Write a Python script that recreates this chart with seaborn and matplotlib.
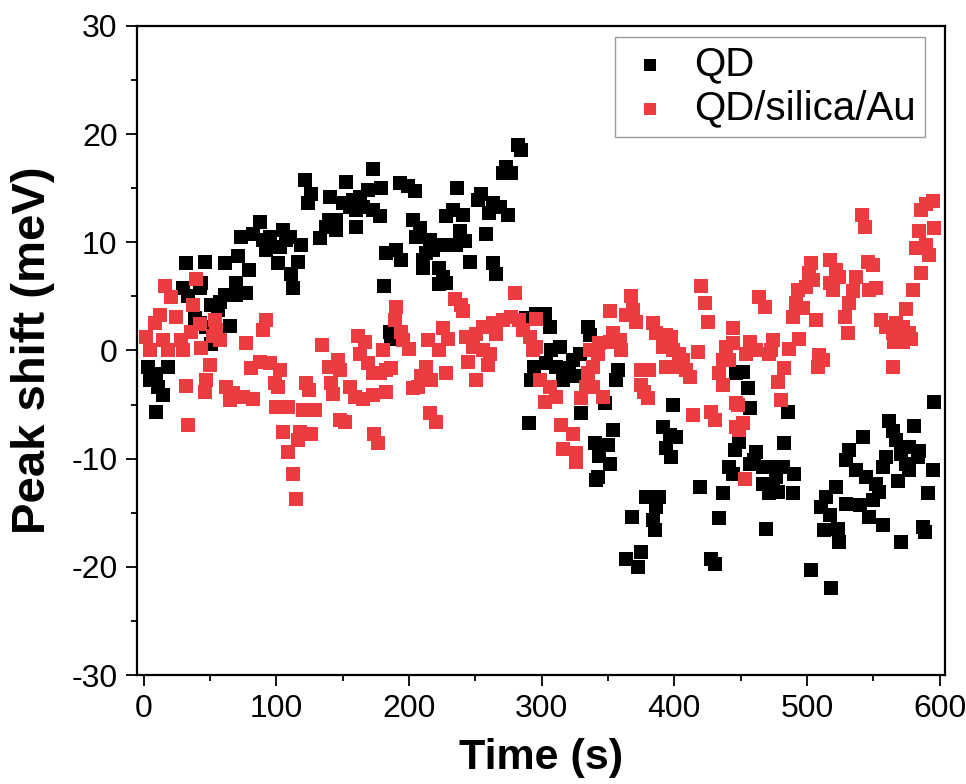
import matplotlib
matplotlib.use("Agg")
import matplotlib.pyplot as plt
from matplotlib.ticker import MultipleLocator
import seaborn as sns

# QD (black squares): time in s, peak shift in meV
qd_time = [
    121.3, 126.4, 123.8, 140.2, 140, 137.7, 145, 132.6, 87.4, 73.6, 82.4, 89.9, 95, 105,
    107.5, 102.5, 110, 92.5, 118.8, 101.2, 116.3, 111.3, 112.5, 31.6, 46, 61.5, 71.1, 79.4,
    69.3, 77.4, 69.8, 61, 57.3, 56, 51, 29.6, 33.4, 42.2, 43.5, 38.4, 42.2, 47.2, 64.8, 51,
    3.2, 9.6, 18.3, 4.5, 10.8, 14.5, 9.6,
    282, 284.6, 273.3, 277.1, 270.8, 172.8, 152.7, 192.9, 199.2, 204.2, 179.1, 169, 162.8,
    157.7, 150.2, 165.3, 160.3, 155.2, 172.8, 177.8, 145.2, 160.3, 236.2, 254.3, 251.9,
    263.2, 260.7, 268.3, 274.5, 233, 228, 240.6, 202.9, 208, 238.1, 241.9, 235.6, 230.6,
    258.1, 205.5, 215.5, 220.5, 213, 210.5, 218, 182.8, 190.4, 194.1, 210.5, 223, 225.6,
    223, 228, 245.7, 263.2, 265.8, 180.9, 185.4, 186.7, 288.3, 295.8, 294.6, 292.1, 290.3,
    302.2, 306, 334.8, 336.1, 313.5, 307.2, 303.4, 310.9, 318.5, 323.5, 328.6, 316, 321,
    326, 357.4, 356.2, 347.4, 329.8, 353.7, 339.9, 349.9, 343.6, 351.2, 342.4, 399.4,
    391.3, 396.4, 401.4, 393.8, 397.7, 446.5, 441.6, 444, 445.4, 341, 363.7,
    596.1, 451.7, 455.4, 456.7, 485.5, 483, 449.1, 461.7, 460.4, 466.7, 474.2, 481.7,
    490.6, 456.7, 542, 532, 529.5, 537, 562.1, 564.6, 567.1, 559.6, 557.1, 570.9, 577.2,
    581, 584.8, 583.5, 574.7, 594.8,
    476.8, 466.7, 474.2, 471.7, 478, 489.3, 419, 378.8, 388.8, 386.4, 383.8, 385.1, 368,
    436.6, 434, 469.2, 375, 372.5, 427.8, 430.4, 503.1, 518.2, 544.5, 552.1, 554.6, 549.6,
    539.6, 529.5, 522, 514.5, 510.7, 517, 513.2, 523.3, 524.5, 577.2, 568.4, 557.1, 547.1,
    571, 591, 587.3, 588.6,
]
qd_shift = [
    15.8, 14.5, 13.6, 14.2, 12.1, 11.4, 11.1, 10.4, 11.9, 10.5, 10.8, 10.2, 10.5, 11.1,
    10.2, 9.6, 10.5, 9.3, 9.75, 8.05, 8.2, 7.1, 5.75, 8.1, 8.2, 8.1, 8.7, 7.4,
    6.2, 5.3, 5.1, 5.1, 4.5, 3.75, 4.2, 5.75, 5.0, 5.75, 6.2, 2.97, 2.5, 2.2, 2.3, 0.6,
    -1.5, -2.15, -1.5, -2.7, -3.35, -4.1, -5.7,
    19.0, 18.5, 17.0, 16.4, 16.4, 16.8, 15.6, 15.5, 15.2, 14.7, 15.0, 14.85, 14.2,
    13.9, 13.6, 13.3, 13.0, 13.3, 13.0, 12.4, 12.1, 11.4, 15.0, 14.5, 13.9,
    13.6, 12.7, 13.3, 12.5, 13.0, 12.4, 12.5, 12.1, 11.3, 11.0, 10.1, 9.75, 9.75,
    10.8, 10.5, 10.2, 9.75, 9.0, 8.4, 9.3, 9.0, 9.3, 8.4, 7.6, 7.6, 6.8,
    6.1, 6.2, 8.2, 8.05, 7.1, 6.0, 1.7, 1.1, 3.0, 3.4, -1.5, -2.75, -6.75,
    3.4, 2.2, 2.2, 1.4, 0.35, 0.05, -1.2, -1.5, -1.65, -0.9, -0.3, -2.75, -2.1,
    -2.4, -1.8, -2.75, -4.9, -5.8, -7.35, -8.6, -8.75, -9.8, -10.45, -11.7, -5.05,
    -7.05, -7.8, -8.0, -9.05, -9.85, -2.1, -10.75, -11.4, -9.2, -12.0, -19.25,
    -4.8, -1.95, -3.5, -5.35, -5.65, -8.6, -8.45, -9.4, -10.15, -10.75, -10.75, -10.75,
    -11.4, -10.45, -8.0, -9.2, -10.15, -11.05, -6.5, -7.4, -8.3, -9.85, -10.8, -9.55, -8.95,
    -6.95, -9.25, -9.85, -10.45, -11.05,
    -11.7, -12.3, -12.6, -13.2, -13.1, -13.2, -12.6, -13.5, -13.5, -14.45, -15.7, -16.6, -15.4,
    -13.2, -15.5, -16.5, -18.6, -20.0, -19.25, -19.7, -20.3, -22.0, -11.7, -12.3, -13.1, -13.85,
    -14.3, -14.15, -12.6, -13.5, -14.45, -15.2, -16.6, -16.5, -17.7, -11.05, -12.1, -16.15, -15.4,
    -17.7, -13.2, -16.3, -16.8,
]

# QD/silica/Au (red squares)
au_time = [
    39.7, 15.8, 20.9, 24.6, 12.1, 8.3, 37.2, 53.5, 54.8, 92.5, 89.9, 42.2, 35.9, 2, 4.5,
    14.5, 18.3, 28.4, 29.6, 43.4, 52.2, 57.3, 77.4, 134.5, 49.7, 47.2, 46, 31.6, 33.4,
    81.1, 87.4, 95, 102.5, 98.7, 101.2, 62.3, 67.3, 74.8, 82.4, 64.8, 100, 108.7, 122.6,
    125, 120, 128.9, 140, 141, 142.6, 105, 117.6, 126.4, 116.3, 108.7, 112.5, 147.7, 114.5,
    279.6, 234.4, 239.4, 240.6, 190.4, 189.2, 194.2, 195.4, 200.4, 225.5, 229.3, 223,
    214.3, 161.4, 166.5, 180.4, 162.8, 169.1, 172.8, 182.8, 186.7, 177.8, 146.5, 147.7,
    155.2, 159, 165.3, 172.8, 182.8, 151.5, 174, 176.6, 213, 209.3, 216.8, 202.9, 206.7,
    228, 243.1, 250.6, 255.7, 263.2, 270.8, 277.1, 283.3, 285.8, 290.9, 293.4, 248.2,
    255.7, 260.8, 265.8, 244.4, 259.5, 250.7, 220.5, 215.5,
    420.2, 422.8, 425.3, 367.4, 351.2, 363.7, 368.8, 371.3, 295.8, 383.8, 386.4, 393.9,
    397.7, 391.4, 398.9, 403.9, 406.4, 401.4, 409, 411.5, 393.9, 417.7, 353.7, 358.7,
    351.2, 343.6, 336.1, 342.4, 359.9, 295.8, 338.6, 334.8, 375, 381.3, 375, 377.5, 380,
    298.4, 306, 310.9, 302.2, 333.5, 338.6, 329.8, 346.1, 314.8, 323.5, 316, 326, 326,
    413.9, 427.8, 430.4, 436.5, 433.9, 436.5, 441.6, 439.1, 444, 444, 446.5, 446.5,
    589.8, 594.8, 586, 584.8, 596.1, 582.3, 589.8, 592.3, 586, 579.7, 574.6, 541.3, 543.8,
    503.1, 501.8, 504.3, 517, 522, 524.5, 517, 519.5, 545.8, 549.6, 537, 534.5, 532, 528.3,
    547.1, 552.1, 493, 499.3, 491.8, 496.8, 489.2, 464.2, 468, 506.8, 530.7, 555.8, 559.6,
    567.1, 572.1, 564.6, 569.7, 577.2, 578.5, 565.9, 572.1, 564.6, 456.7, 461.7, 454.1,
    474.2, 473, 471.7, 494.3, 486.8, 509.4, 511.9, 508.1, 483, 478, 480.5, 447.9, 451.7,
    449.1, 453,
]
au_shift = [
    6.6, 6.0, 4.9, 3.1, 3.3, 2.5, 4.2, 2.8, 1.9, 2.8, 1.9, 2.4, 1.7, 1.23, 0.05,
    1.0, 0.05, 1.0, 0.05, 0.2, 1.3, 1.0, 0.65, 0.5, -1.35, -2.7, -3.8, -3.25, -6.9,
    -1.65, -1.05, -1.2, -1.8, -3.0, -3.35, -3.35, -3.95, -4.3, -4.45, -4.6, -5.2, -5.2, -3.0,
    -3.65, -5.5, -5.5, -1.5, -3.0, -4.0, -7.5, -7.5, -7.7, -8.3, -9.4, -11.4, -6.4, -13.7,
    5.3, 4.8, 4.2, 3.6, 4.05, 2.8, 1.75, 1.0, 0.15, 2.05, 1.1, 0.05,
    1.0, 1.3, 0.8, 0.05, -0.3, -1.2, -2.1, -1.8, -1.65, -2.1, -0.9, -1.8,
    -3.35, -4.3, -4.45, -4.1, -3.8, -6.6, -7.7, -8.6, -1.5, -2.4, -2.75, -3.5, -3.35,
    -2.1, 1.25, 1.55, 2.2, 2.5, 2.8, 3.1, 2.8, 1.9, 1.25, 0.05, 0.35,
    0.05, -0.3, 1.55, -1.05, -1.35, -2.75, -6.6, -5.8,
    6.0, 4.35, 2.65, 5.0, 3.6, 3.3, 3.75, 2.65, 2.9, 2.5, 1.6, 1.4,
    1.25, 0.35, 0.05, -0.3, -0.9, -1.5, -1.8, -2.45, -1.5, -0.15, 1.6, 0.95,
    0.8, 0.65, 0.05, -0.3, 0.05, 0.35, -1.5, -2.1, -1.8, -1.8, -3.2, -3.8, -4.4,
    -2.75, -3.35, -4.3, -4.75, -3.35, -3.35, -4.4, -4.3, -6.9, -7.7, -9.1, -9.5, -10.3,
    -6.0, -5.7, -6.45, -0.9, -2.1, -3.2, -0.9, 0.35, 2.05, 0.65, -4.9, -7.05,
    13.5, 13.8, 13.0, 11.0, 11.3, 9.45, 9.75, 8.85, 7.2, 5.6, 3.8, 12.55, 11.45,
    8.05, 7.15, 6.5, 8.4, 7.45, 6.8, 6.2, 5.6, 8.2, 7.9, 6.8, 5.45, 4.35, 3.1,
    5.6, 5.75, 5.6, 5.9, 4.35, 3.9, 3.1, 4.95, 4.05, 2.8, 1.6, 2.8, 2.2,
    2.5, 2.2, 1.6, 1.3, 1.6, 1.1, 0.8, 0.8, -1.5, 0.8, 0.05, -0.3,
    0.95, 0.05, -0.3, 1.1, 0.1, -0.45, -0.9, -1.5, -1.65, -2.9, -4.6, -5.05, -6.75,
    -7.35, -11.9,
]

sns.set_style("white")
plt.rcParams["font.family"] = ["Liberation Sans", "DejaVu Sans"]
plt.rcParams["axes.unicode_minus"] = False
plt.rcParams["text.color"] = "black"
plt.rcParams["axes.labelcolor"] = "black"

fig = plt.figure(figsize=(9.66, 7.84), dpi=100)
ax = fig.add_axes([0.1418, 0.139, 0.8364, 0.828])

sns.scatterplot(x=qd_time, y=qd_shift, ax=ax, marker="s", s=105, color="black",
                linewidth=0, label="QD")
sns.scatterplot(x=au_time, y=au_shift, ax=ax, marker="s", s=105, color="#EC3B41",
                linewidth=0, label="QD/silica/Au")

ax.set_xlim(-5, 604)
ax.set_ylim(-30, 30)
ax.xaxis.set_major_locator(MultipleLocator(100))
ax.xaxis.set_minor_locator(MultipleLocator(50))
ax.yaxis.set_major_locator(MultipleLocator(10))
ax.yaxis.set_minor_locator(MultipleLocator(5))
ax.tick_params(which="both", direction="out", bottom=True, left=True, top=False,
               right=False, width=1.3, colors="black")
ax.tick_params(which="major", length=8, labelsize=23, pad=6)
ax.tick_params(which="minor", length=4)
for sp in ax.spines.values():
    sp.set_visible(True)
    sp.set_color("black")
    sp.set_linewidth(1.6)

ax.set_xlabel("Time (s)", fontsize=31, fontweight="bold", labelpad=10)
ax.set_ylabel("Peak shift (meV)", fontsize=34, fontweight="bold", labelpad=12)

ax.legend(loc="upper right", bbox_to_anchor=(0.975, 0.983), borderaxespad=0,
          fontsize=29, frameon=True, fancybox=False, edgecolor="#9a9a9a",
          framealpha=1, handlelength=1.3, handletextpad=0.45, borderpad=0.22,
          labelspacing=0.15, markerscale=0.9)
ax.get_legend().get_frame().set_linewidth(1.0)

fig.savefig("out.png", dpi=100)
